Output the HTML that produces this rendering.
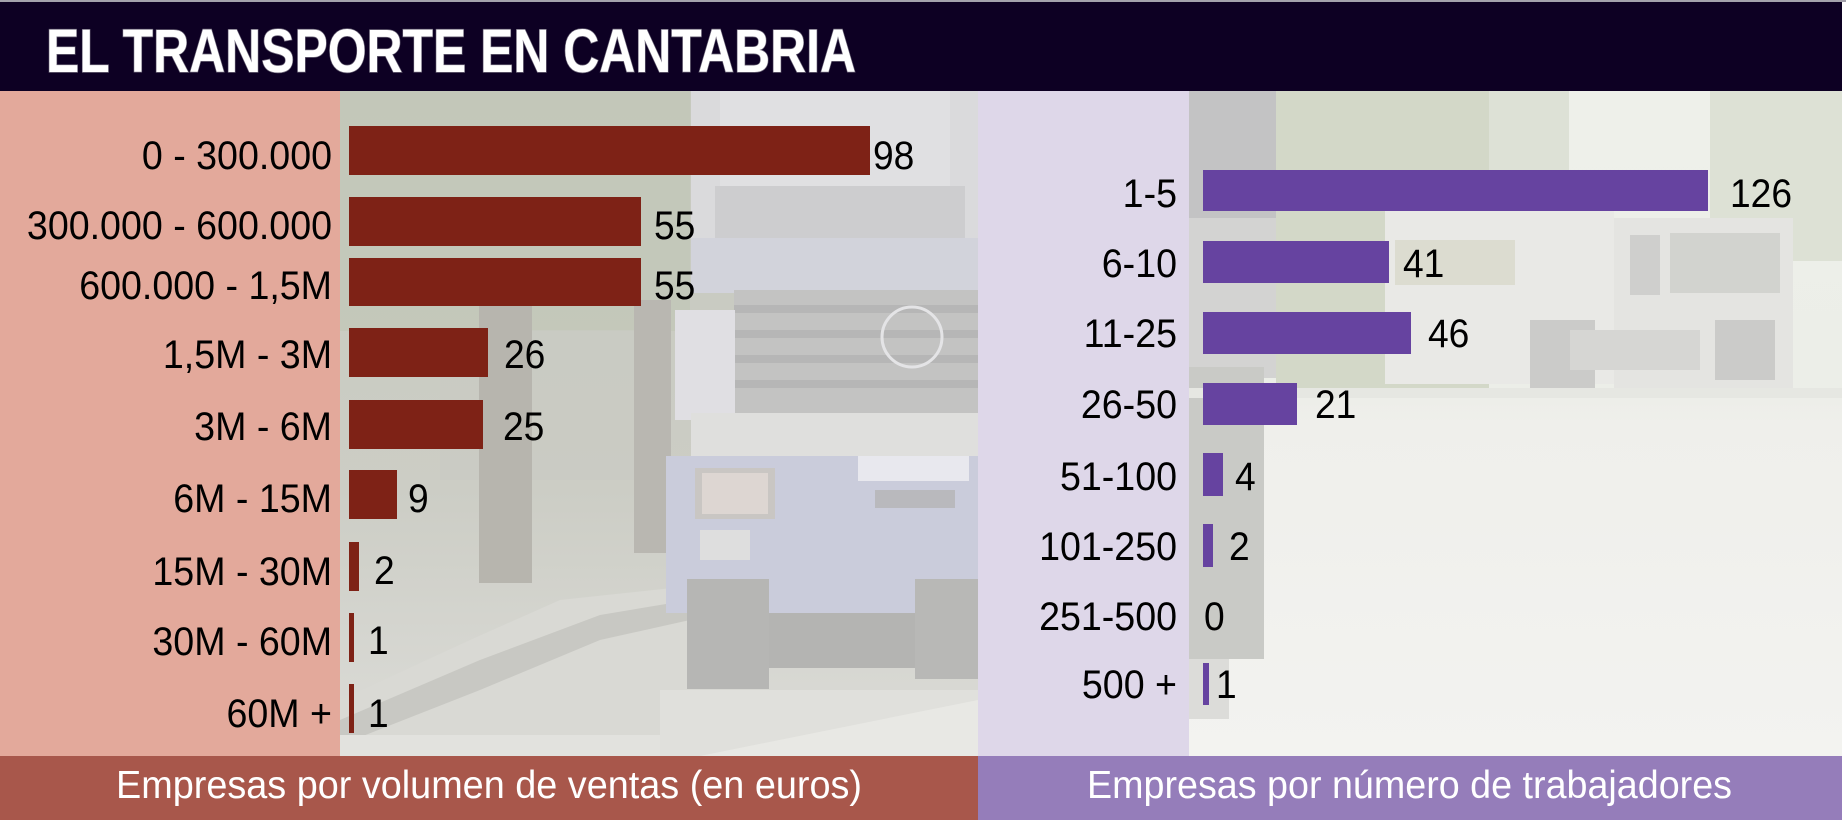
<!DOCTYPE html>
<html><head><meta charset="utf-8"><style>
html,body{margin:0;padding:0;background:#fff;}
svg{display:block;}
text{font-family:"Liberation Sans",Arial,sans-serif;}
</style></head><body>
<svg width="1846" height="820" viewBox="0 0 1846 820" xmlns="http://www.w3.org/2000/svg">
<defs>
<linearGradient id="lp" x1="0" y1="0" x2="0" y2="1">
<stop offset="0" stop-color="#c6c9be"/><stop offset="0.6" stop-color="#cccdc5"/><stop offset="1" stop-color="#dcdcd8"/>
</linearGradient>
<linearGradient id="rp" x1="0" y1="0" x2="0" y2="1">
<stop offset="0" stop-color="#eef0ea"/><stop offset="0.45" stop-color="#eceee8"/><stop offset="0.5" stop-color="#efefeb"/><stop offset="1" stop-color="#f3f3f0"/>
</linearGradient>
</defs>
<rect x="0" y="0" width="1846" height="820" fill="#ffffff"/>
<!-- title bar -->
<rect x="0" y="0" width="1846" height="2" fill="#a4a2ac"/>
<rect x="0" y="2" width="1842" height="89" fill="#0d0023"/>
<text x="46" y="72" font-size="61" font-weight="bold" fill="#ffffff" stroke="#6b6477" stroke-width="1.5" paint-order="stroke" textLength="810" lengthAdjust="spacingAndGlyphs">EL TRANSPORTE EN CANTABRIA</text>

<!-- left pink -->
<rect x="0" y="91" width="340" height="665" fill="#e3a99b"/>
<!-- left photo -->
<rect x="340" y="91" width="638" height="665" fill="url(#lp)"/>
<rect x="340" y="91" width="350" height="240" fill="#c2c7b8" opacity="0.8"/>
<rect x="440" y="330" width="230" height="150" fill="#c9cac3" opacity="0.7"/>
<rect x="479" y="303" width="53" height="280" fill="#b7b5ae"/>
<rect x="634" y="300" width="37" height="253" fill="#b9b7b1"/>
<polygon points="340,700 470,640 560,600 700,585 700,756 340,756" fill="#d9d9d4"/>
<polygon points="340,720 480,660 600,615 690,600 690,620 600,640 480,690 340,745" fill="#c8c8c3"/>
<rect x="340" y="735" width="360" height="21" fill="#e2e2de"/>
<!-- truck -->
<rect x="691" y="91" width="287" height="200" fill="#dadadc"/>
<rect x="720" y="91" width="230" height="95" fill="#e0e0e2"/>
<rect x="715" y="186" width="250" height="90" fill="#cdcdcf"/>
<rect x="691" y="238" width="287" height="55" fill="#d2d3db"/>
<rect x="734" y="290" width="244" height="123" fill="#c3c3c2"/>
<rect x="734" y="305" width="244" height="8" fill="#b6b6b6"/>
<rect x="734" y="330" width="244" height="8" fill="#b6b6b6"/>
<rect x="734" y="355" width="244" height="8" fill="#b6b6b6"/>
<rect x="734" y="380" width="244" height="8" fill="#b6b6b6"/>
<circle cx="912" cy="337" r="30" fill="none" stroke="#e4e4e6" stroke-width="3"/>
<rect x="675" y="310" width="60" height="110" fill="#e0dfe3"/>
<rect x="691" y="413" width="287" height="43" fill="#dfdfdd"/>
<rect x="666" y="456" width="312" height="157" fill="#caccdb"/>
<rect x="695" y="468" width="80" height="51" fill="#c9c6c3"/>
<rect x="702" y="473" width="66" height="41" fill="#ddd6d2"/>
<rect x="700" y="530" width="50" height="30" fill="#dedede"/>
<rect x="858" y="456" width="111" height="25" fill="#e8e8ee"/>
<rect x="875" y="490" width="80" height="18" fill="#b9b9bd"/>
<rect x="764" y="613" width="156" height="55" fill="#b4b4b2"/>
<rect x="687" y="579" width="82" height="110" fill="#b6b6b4"/>
<rect x="915" y="579" width="63" height="100" fill="#b8b8b6"/>
<rect x="660" y="690" width="318" height="66" fill="#e0e0dc"/>
<polygon points="700,756 978,700 978,756" fill="#e8e8e4"/>

<!-- right lavender -->
<rect x="978" y="91" width="211" height="665" fill="#ded7e9"/>
<!-- right photo -->
<rect x="1189" y="91" width="653" height="665" fill="url(#rp)"/>
<rect x="1276" y="91" width="213" height="297" fill="#d3d8c8"/>
<rect x="1489" y="91" width="80" height="120" fill="#dde1d6"/>
<rect x="1710" y="91" width="132" height="170" fill="#dde1d5"/>
<rect x="1189" y="91" width="87" height="127" fill="#c3c3c4"/>
<rect x="1189" y="218" width="87" height="160" fill="#d3d3d2"/>
<rect x="1189" y="367" width="75" height="292" fill="#c9cac6"/>
<rect x="1189" y="659" width="40" height="60" fill="#dcdcd9"/>
<rect x="1385" y="210" width="229" height="174" fill="#e9e9e6"/>
<rect x="1395" y="240" width="120" height="45" fill="#dcdcd0"/>
<rect x="1614" y="218" width="179" height="170" fill="#e4e4e1"/>
<rect x="1670" y="233" width="110" height="60" fill="#d2d3cf"/>
<rect x="1630" y="235" width="30" height="60" fill="#cfcfcd"/>
<rect x="1530" y="320" width="65" height="70" fill="#cbcbc9"/>
<rect x="1715" y="320" width="60" height="60" fill="#cbcbc9"/>
<rect x="1570" y="330" width="130" height="40" fill="#d6d6d3"/>
<rect x="1189" y="388" width="653" height="10" fill="#e6e7e2"/>

<!-- bottom bars -->
<rect x="0" y="756" width="978" height="64" fill="#a8574b"/>
<rect x="978" y="756" width="864" height="64" fill="#957dba"/>
<text x="116" y="798" font-size="39" fill="#ffffff" textLength="746" lengthAdjust="spacingAndGlyphs">Empresas por volumen de ventas (en euros)</text>
<text x="1087" y="798" font-size="39" fill="#ffffff" textLength="645" lengthAdjust="spacingAndGlyphs">Empresas por número de trabajadores</text>

<!-- left bars -->
<g fill="#7e2216">
<rect x="349" y="126" width="521" height="49"/>
<rect x="349" y="197" width="292" height="49"/>
<rect x="349" y="258" width="292" height="48"/>
<rect x="349" y="328" width="139" height="49"/>
<rect x="349" y="400" width="134" height="49"/>
<rect x="349" y="470" width="48" height="49"/>
<rect x="349" y="542" width="10" height="49"/>
<rect x="349" y="613" width="5" height="49"/>
<rect x="349" y="684" width="5" height="49"/>
</g>
<g font-size="40" fill="#000" text-anchor="end">
<text transform="translate(332,169) scale(0.94,1)">0 - 300.000</text>
<text transform="translate(332,239) scale(0.94,1)">300.000 - 600.000</text>
<text transform="translate(332,299) scale(0.94,1)">600.000 - 1,5M</text>
<text transform="translate(332,368) scale(0.94,1)">1,5M - 3M</text>
<text transform="translate(332,440) scale(0.94,1)">3M - 6M</text>
<text transform="translate(332,512) scale(0.94,1)">6M - 15M</text>
<text transform="translate(332,585) scale(0.94,1)">15M - 30M</text>
<text transform="translate(332,655) scale(0.94,1)">30M - 60M</text>
<text transform="translate(332,727) scale(0.94,1)">60M +</text>
</g>
<g font-size="40" fill="#000">
<text transform="translate(873,169) scale(0.93,1)">98</text>
<text transform="translate(654,239) scale(0.93,1)">55</text>
<text transform="translate(654,299) scale(0.93,1)">55</text>
<text transform="translate(504,368) scale(0.93,1)">26</text>
<text transform="translate(503,440) scale(0.93,1)">25</text>
<text transform="translate(408,512) scale(0.93,1)">9</text>
<text transform="translate(374,584) scale(0.93,1)">2</text>
<text transform="translate(368,654) scale(0.93,1)">1</text>
<text transform="translate(368,727) scale(0.93,1)">1</text>
</g>

<!-- right bars -->
<g fill="#6643a0">
<rect x="1203" y="170" width="505" height="41"/>
<rect x="1203" y="241" width="186" height="42"/>
<rect x="1203" y="312" width="208" height="42"/>
<rect x="1203" y="383" width="94" height="42"/>
<rect x="1203" y="453" width="20" height="43"/>
<rect x="1203" y="524" width="10" height="43"/>
<rect x="1203" y="663" width="6" height="42"/>
</g>
<g font-size="40" fill="#000" text-anchor="end">
<text transform="translate(1177,207) scale(0.94,1)">1-5</text>
<text transform="translate(1177,277) scale(0.94,1)">6-10</text>
<text transform="translate(1177,347) scale(0.94,1)">11-25</text>
<text transform="translate(1177,418) scale(0.94,1)">26-50</text>
<text transform="translate(1177,490) scale(0.94,1)">51-100</text>
<text transform="translate(1177,560) scale(0.94,1)">101-250</text>
<text transform="translate(1177,630) scale(0.94,1)">251-500</text>
<text transform="translate(1177,698) scale(0.94,1)">500 +</text>
</g>
<g font-size="40" fill="#000">
<text transform="translate(1730,207) scale(0.93,1)">126</text>
<text transform="translate(1403,277) scale(0.93,1)">41</text>
<text transform="translate(1428,347) scale(0.93,1)">46</text>
<text transform="translate(1315,418) scale(0.93,1)">21</text>
<text transform="translate(1235,490) scale(0.93,1)">4</text>
<text transform="translate(1229,560) scale(0.93,1)">2</text>
<text transform="translate(1204,630) scale(0.93,1)">0</text>
<text transform="translate(1216,698) scale(0.93,1)">1</text>
</g>
</svg>
</body></html>
